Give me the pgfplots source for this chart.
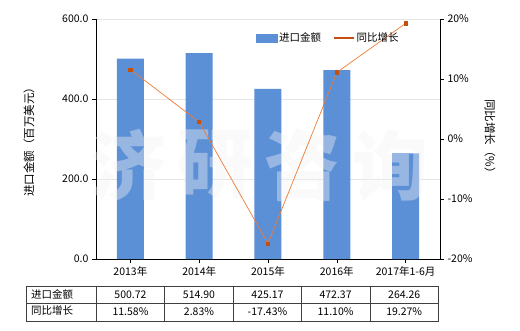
\documentclass[border=0pt]{standalone}
\usepackage{pgfplots}
\pgfplotsset{compat=1.18}
\usepackage{fontspec}
\setmainfont{Noto Sans CJK SC}
\definecolor{barblue}{HTML}{5B8FD6}
\definecolor{lineor}{HTML}{F07A36}
\definecolor{markor}{HTML}{C4500F}
\definecolor{wm}{HTML}{F2F2F2}
\begin{document}
\begin{tikzpicture}[x=1pt,y=1pt,font=\fontsize{10.5}{12}\selectfont]
\useasboundingbox (0,0) rectangle (520,330);
\begin{axis}[at={(96pt,71pt)}, anchor=south west, scale only axis,
  width=344pt, height=240pt,
  xmin=-0.5, xmax=4.5, ymin=0, ymax=600,
  axis y line*=left, axis x line*=bottom,
  xtick={0,1,2,3,4},
  xticklabels={2013年,2014年,2015年,2016年,2017年1-6月},
  ytick={0,200,400,600},
  ymajorgrids, grid style={draw=black!10},
  /pgf/number format/assume math mode=true,
  yticklabel style={/pgf/number format/.cd, fixed, fixed zerofill, precision=1},
  tick align=outside, major tick length=4pt,
  tick style={black},
  ylabel={进口金额（百万美元）},
  ylabel style={at={(axis description cs:-0.195,0.5)}, anchor=center, font=\fontsize{11.5}{13}\selectfont},
  axis line style={black},
  clip=false]
\addplot[ybar, bar width=27pt, fill=barblue, draw=none] coordinates {(0,500.72)(1,514.90)(2,425.17)(3,472.37)(4,264.26)};
\end{axis}
\begin{scope}[every node/.style={text=wm, opacity=0.4, font=\fontsize{76}{76}\selectfont\bfseries}]
\node at (128,165) {济};
\node at (215,165) {研};
\node at (302,165) {咨};
\node at (390,165) {询};
\end{scope}
\begin{axis}[at={(96pt,71pt)}, anchor=south west, scale only axis,
  width=344pt, height=240pt,
  xmin=-0.5, xmax=4.5, ymin=-20, ymax=20,
  axis y line*=right, axis x line=none,
  ytick={-20,-10,0,10,20},
  /pgf/number format/assume math mode=true,
  yticklabel={\pgfmathprintnumber{\tick}\%},
  tick align=outside, major tick length=4pt,
  tick style={black},
  ylabel={同比增长（\%）},
  ylabel style={at={(axis description cs:1.145,0.5)}, anchor=center, rotate=180, font=\fontsize{11.5}{13}\selectfont},
  axis line style={black},
  legend columns=2,
  legend style={draw=none, fill=none, at={(0.455,0.92)}, anchor=west,
    font=\fontsize{10.5}{12}\selectfont, /tikz/every even column/.append style={column sep=10pt}},
  legend image code/.code={\draw[#1] (0pt,0pt) -- (20pt,0pt);},
  clip=false]
\addlegendimage{legend image code/.code={\fill[barblue] (0pt,-4pt) rectangle (21pt,4pt);}}
\addlegendentry{进口金额}
\addlegendimage{markor, line width=1.5pt, mark=square*, mark size=1.5pt, mark options={fill=lineor, draw=markor, line width=0.4pt}}
\addlegendentry{同比增长}
\addplot[lineor, line width=0.7pt, mark=square*, mark size=1.6pt, mark options={fill=markor, draw=markor}, forget plot] coordinates {(0,11.58)(1,2.83)(2,-17.43)(3,11.10)(4,19.27)};
\end{axis}
% data table
\draw[black!75, line width=0.6pt] (26.7,44) rectangle (438.3,9);
\draw[black!75, line width=0.6pt] (26.7,27) -- (438.3,27);
\foreach \x in {96.7,164.3,233.7,301.3,370} \draw[black!75, line width=0.6pt] (\x,44) -- (\x,9);
\node[anchor=west] at (27.5,36) {进口金额};
\node[anchor=west] at (27.5,19) {同比增长};
\node at (130.5,35) {500.72};
\node at (199,35) {514.90};
\node at (267.5,35) {425.17};
\node at (335.6,35) {472.37};
\node at (404.2,35) {264.26};
\node at (130.5,18) {11.58\%};
\node at (199,18) {2.83\%};
\node at (267.5,18) {-17.43\%};
\node at (335.6,18) {11.10\%};
\node at (404.2,18) {19.27\%};
\end{tikzpicture}
\end{document}
